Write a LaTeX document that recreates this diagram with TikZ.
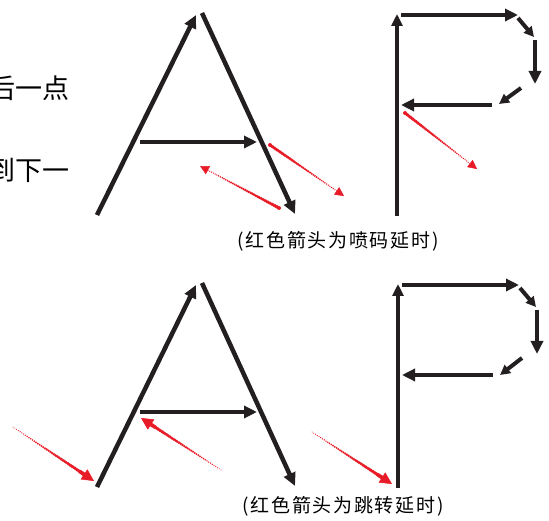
\documentclass[tikz,border=0pt]{standalone}
\usepackage{fontspec}
\newfontfamily\cjk{Noto Sans CJK SC}
\newfontfamily\cjkcap[LetterSpace=9]{Noto Sans CJK SC}
\usetikzlibrary{arrows.meta,calc}
\definecolor{ink}{RGB}{35,31,32}
\definecolor{redc}{RGB}{232,28,40}
\tikzset{
 stroke/.style={draw=ink, line width=4.5pt, -{Triangle[length=13pt,width=12pt]}},
 plainstroke/.style={draw=ink, line width=4.5pt},
 pstem/.style={draw=ink, line width=3.5pt, -{Triangle[length=12pt,width=11pt]}},
 smallstroke/.style={draw=ink, line width=4pt, -{Triangle[length=10pt,width=10pt]}},
 lbl/.style={font=\cjk\fontsize{27}{27}\selectfont, inner sep=0pt, anchor=east},
 capt/.style={font=\cjkcap\fontsize{19}{19}\selectfont, inner sep=0pt},
}
\newcommand\redtaper[5]{%
  \coordinate (rt-e) at ($(#2)!#5!(#1)$);
  \foreach \i in {0,...,40}{%
    \pgfmathsetmacro\rtT{\i/40}%
    \pgfmathsetmacro\rtR{#3+(#4-#3)*\rtT}%
    \fill[redc] ($(#1)!\rtT!(rt-e)$) circle[radius=\rtR pt];
  }
  \draw[redc, line width=0.5pt, -{Triangle[length=#5,width=#5]}] (rt-e) -- (#2);
}
\begin{document}
\begin{tikzpicture}[x=1pt,y=-1pt]
\clip (0,0) rectangle (549,521);
% left text (cut off at the edge, as in the reference)
\node[lbl] (t1) at (70,88) {后一点};
\node[lbl] (t2) at (70,170) {到下一};
% ---------- top A ----------
\coordinate (a1L) at (97,215);
\coordinate (a1T) at (196,15);
\coordinate (a1S) at (202,13);
\coordinate (a1R) at (295,214);
\coordinate (a1B1) at (140,142);
\coordinate (a1B2) at (257,142);
\draw[stroke] (a1L) -- (a1T);
\draw[stroke] (a1S) -- (a1R);
\draw[stroke] (a1B1) -- (a1B2);
\coordinate (r1a) at (270,145);
\coordinate (r1b) at (344,196);
\coordinate (r2a) at (279,208);
\coordinate (r2b) at (200,166);
\redtaper{r1a}{r1b}{2.0}{0.6}{9pt}
\redtaper{r2a}{r2b}{2.0}{0.6}{9pt}
% ---------- top P ----------
\coordinate (p1B) at (397,216);
\coordinate (p1T) at (397,14);
\coordinate (p1H1) at (401,15);
\coordinate (p1H2) at (518,15);
\coordinate (p1D1) at (518,18);
\coordinate (p1D2) at (534,37);
\coordinate (p1V1) at (535,40);
\coordinate (p1V2) at (535,84);
\coordinate (p1E1) at (521,88);
\coordinate (p1E2) at (499,104);
\coordinate (p1M1) at (492,105);
\coordinate (p1M2) at (401,105);
\draw[pstem] (p1B) -- (p1T);
\draw[stroke] (p1H1) -- (p1H2);
\draw[smallstroke] (p1D1) -- (p1D2);
\draw[stroke] (p1V1) -- (p1V2);
\draw[smallstroke] (p1E1) -- (p1E2);
\draw[stroke] (p1M1) -- (p1M2);
\coordinate (r3a) at (405,113);
\coordinate (r3b) at (477,169);
\redtaper{r3a}{r3b}{2.0}{0.6}{9pt}
\node[capt] (c1) at (338,241) {(红色箭头为喷码延时)};
% ---------- bottom A ----------
\coordinate (a2L) at (97,487);
\coordinate (a2T) at (196,285);
\coordinate (a2S) at (202,283);
\coordinate (a2R) at (295,486);
\coordinate (a2B1) at (140,412);
\coordinate (a2B2) at (257,412);
\draw[stroke] (a2L) -- (a2T);
\draw[stroke] (a2S) -- (a2R);
\draw[stroke] (a2B1) -- (a2B2);
\coordinate (r4a) at (13,427);
\coordinate (r4b) at (94,481);
\coordinate (r5a) at (221,470);
\coordinate (r5b) at (141,418);
\redtaper{r4a}{r4b}{0.5}{2.1}{12pt}
\redtaper{r5a}{r5b}{0.5}{2.1}{12pt}
% ---------- bottom P ----------
\coordinate (p2B) at (398,488);
\coordinate (p2T) at (398,284);
\coordinate (p2H1) at (402,285);
\coordinate (p2H2) at (519,285);
\coordinate (p2D1) at (520,288);
\coordinate (p2D2) at (536,307);
\coordinate (p2V1) at (537,310);
\coordinate (p2V2) at (537,354);
\coordinate (p2E1) at (522,358);
\coordinate (p2E2) at (500,375);
\coordinate (p2M1) at (493,375);
\coordinate (p2M2) at (402,375);
\draw[pstem] (p2B) -- (p2T);
\draw[stroke] (p2H1) -- (p2H2);
\draw[smallstroke] (p2D1) -- (p2D2);
\draw[stroke] (p2V1) -- (p2V2);
\draw[smallstroke] (p2E1) -- (p2E2);
\draw[stroke] (p2M1) -- (p2M2);
\coordinate (r6a) at (312,432);
\coordinate (r6b) at (392,484);
\redtaper{r6a}{r6b}{0.5}{2.1}{12pt}
\node[capt] (c2) at (343,506) {(红色箭头为跳转延时)};
\end{tikzpicture}
\end{document}
